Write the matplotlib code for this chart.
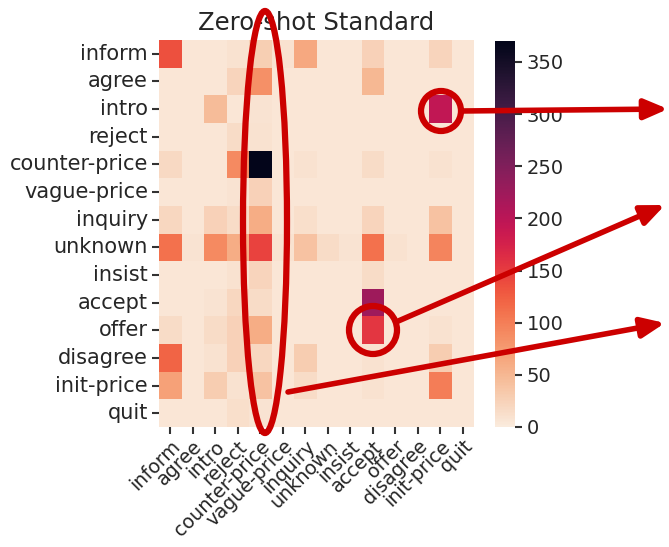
import numpy as np
import matplotlib
matplotlib.use("Agg")
import matplotlib.pyplot as plt
import seaborn as sns
from matplotlib.patches import Ellipse, Circle

# ── Data ──────────────────────────────────────────────────────────────
labels = ["inform", "agree", "intro", "reject", "counter-price", "vague-price",
          "inquiry", "unknown", "insist", "accept", "offer", "disagree",
          "init-price", "quit"]

# rows = true act, columns = predicted act
row_inform = [135, 5, 5, 10, 28, 10, 65, 5, 5, 25, 5, 5, 22, 5]
row_agree = [5, 5, 5, 22, 85, 5, 5, 5, 5, 50, 5, 5, 5, 5]
row_intro = [5, 5, 45, 5, 8, 5, 5, 5, 5, 5, 5, 5, 195, 5]
row_reject = [5, 5, 5, 15, 10, 5, 5, 5, 5, 5, 5, 5, 5, 5]
row_counter = [18, 5, 5, 90, 370, 5, 10, 5, 5, 15, 5, 5, 10, 5]
row_vague = [5, 5, 5, 8, 25, 5, 5, 5, 5, 5, 5, 5, 5, 5]
row_inquiry = [20, 5, 25, 15, 60, 5, 12, 5, 5, 22, 5, 5, 40, 5]
row_unknown = [110, 8, 90, 60, 145, 10, 40, 15, 8, 110, 10, 5, 95, 5]
row_insist = [5, 5, 5, 10, 22, 5, 5, 5, 5, 15, 5, 5, 5, 5]
row_accept = [5, 5, 8, 20, 15, 5, 5, 5, 5, 225, 5, 5, 5, 5]
row_offer = [15, 5, 15, 25, 60, 5, 5, 5, 5, 155, 5, 5, 10, 5]
row_disagree = [120, 5, 10, 25, 20, 5, 30, 5, 5, 10, 5, 5, 30, 5]
row_initprice = [70, 5, 30, 10, 40, 5, 15, 5, 5, 10, 5, 5, 100, 5]
row_quit = [5, 5, 5, 12, 8, 5, 5, 5, 5, 5, 5, 5, 5, 5]

matrix = np.array([row_inform, row_agree, row_intro, row_reject, row_counter,
                   row_vague, row_inquiry, row_unknown, row_insist, row_accept,
                   row_offer, row_disagree, row_initprice, row_quit])

W, H = 669, 547
RED = "#cc0000"

fig = plt.figure(figsize=(W / 100, H / 100), dpi=100)

def box(x0, y0, x1, y1):
    return [x0 / W, 1 - y1 / H, (x1 - x0) / W, (y1 - y0) / H]

ax = fig.add_axes(box(159, 40, 474, 427))
cax = fig.add_axes(box(495, 41, 515, 427))

sns.heatmap(matrix, ax=ax, cbar_ax=cax, cmap="rocket_r", vmin=0, vmax=370,
            xticklabels=labels, yticklabels=labels)

ax.set_title("Zero-shot Standard", fontsize=17.5, color="#262626", pad=7)
ax.tick_params(axis="y", length=5, width=1.5, labelsize=15,
               color="#333333", labelcolor="#262626", pad=3)
ax.tick_params(axis="x", length=5, width=1.5, labelsize=13.8,
               color="#333333", labelcolor="#262626", pad=2)
plt.setp(ax.get_xticklabels(), rotation=45, ha="right", rotation_mode="anchor")
plt.setp(ax.get_yticklabels(), rotation=0)
cax.tick_params(length=5, width=1.5, labelsize=14, color="#333333",
                labelcolor="#262626")
cax.set_yticks([0, 50, 100, 150, 200, 250, 300, 350])

# ── Red highlight overlay (pixel coordinates) ─────────────────────────
ov = fig.add_axes([0, 0, 1, 1])
ov.set_xlim(0, W)
ov.set_ylim(H, 0)
ov.axis("off")
ov.patch.set_alpha(0)

ov.add_patch(Ellipse((265, 222), 44, 422, fill=False, ec=RED, lw=4.5))
ov.add_patch(Circle((441, 111), 20, fill=False, ec=RED, lw=4.5))
ov.add_patch(Circle((373, 330), 24, fill=False, ec=RED, lw=4.5))

arrow = dict(arrowstyle="-|>,head_length=1.4,head_width=0.6", color=RED,
             lw=4, shrinkA=0, shrinkB=0)
ov.annotate("", xy=(668, 109), xytext=(461, 111), arrowprops=arrow)
ov.annotate("", xy=(665, 205), xytext=(396, 322), arrowprops=arrow)
ov.annotate("", xy=(665, 323), xytext=(288, 392), arrowprops=arrow)

fig.savefig("out.png", dpi=100)
